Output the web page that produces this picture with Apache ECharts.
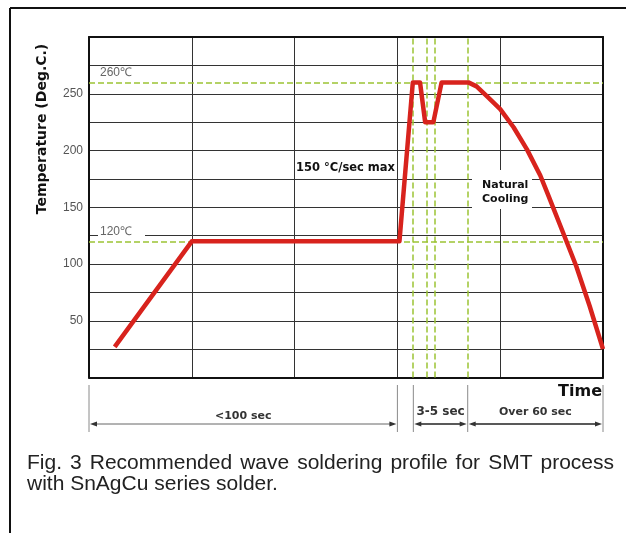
<!DOCTYPE html>
<html><head><meta charset="utf-8">
<script src="https://cdn.jsdelivr.net/npm/echarts@6/dist/echarts.min.js"></script>
<style>html,body{margin:0;padding:0;background:#fff;}#c{width:626px;height:533px;}</style>
</head><body><div id="c"></div>
<script>
// ---- data ----
const timeUnits = [0.25, 1.0, 3.02, 3.15, 3.22, 3.27, 3.35, 3.43, 3.69, 3.77, 3.87, 4.00, 4.13, 4.26, 4.39, 4.47, 4.61, 4.74, 4.87, 5.0];
const temps     = [27,   120, 120,  260,  260,  225,  225,  260,  260,  256.5, 248, 236.5, 220.5, 201, 178, 160, 128, 98, 63, 25];
const yTickLabels = [50, 100, 150, 200, 250];
const refTemps = [260, 120];
const refTempLabels = ['260℃', '120℃'];
const phaseMarks = [3.155, 3.291, 3.359, 3.684];
const phaseSpans = [[0, 3.0], [3.155, 3.684], [3.684, 5.0]];
const phaseLabels = ['<100 sec', '3-5 sec', 'Over 60 sec'];
const rampLabel = '150 °C/sec max';
const coolingLabel = ['Natural', 'Cooling'];
const yTitle = 'Temperature (Deg.C.)';
const xTitle = 'Time';
const captionLines = ['Fig. 3 Recommended wave soldering profile for SMT process', 'with SnAgCu series solder.'];

const chart = echarts.init(document.getElementById('c'), null, {renderer: 'canvas'});
const GREEN = '#9cc434';
const GRID = '#333';
const BOLD = '"DejaVu Sans", sans-serif';

chart.setOption({
  animation: false,
  grid: {left: 89, top: 37, right: 23, bottom: 155.5, show: false},
  xAxis: [
    {type: 'value', min: 0, max: 5, interval: 1,
     axisLine: {show: true, onZero: false, lineStyle: {color: '#111', width: 2}},
     axisTick: {show: false}, axisLabel: {show: false},
     splitLine: {show: true, lineStyle: {color: GRID, width: 1}}},
    {type: 'value', position: 'top', min: 0, max: 5, interval: 1,
     axisLine: {show: true, onZero: false, lineStyle: {color: '#111', width: 2}},
     axisTick: {show: false}, axisLabel: {show: false}, splitLine: {show: false}}
  ],
  yAxis: [
    {type: 'value', min: 0, max: 300, interval: 25,
     axisLine: {show: true, onZero: false, lineStyle: {color: '#111', width: 2}},
     axisTick: {show: false},
     axisLabel: {margin: 6, color: '#555', fontFamily: '"Liberation Sans", Arial', fontSize: 12,
       formatter: v => yTickLabels.includes(v) ? String(v) : ''},
     splitLine: {show: true, lineStyle: {color: GRID, width: 1}}},
    {type: 'value', position: 'right', min: 0, max: 300, interval: 25,
     axisLine: {show: true, onZero: false, lineStyle: {color: '#111', width: 2}},
     axisTick: {show: false}, axisLabel: {show: false}, splitLine: {show: false}}
  ],
  series: [
    {type: 'line', z: 1, data: [], silent: true,
     markLine: {z: 1, silent: true, animation: false, symbol: ['none', 'none'], label: {show: false},
       lineStyle: {color: GREEN, type: [6, 3], width: 1.5},
       data: [...refTemps.map(t => ({yAxis: t})), ...phaseMarks.map(x => ({xAxis: x}))]}},
    {type: 'line', z: 3, symbol: 'none', data: timeUnits.map((t, i) => [t, temps[i]]),
     lineStyle: {color: '#d8231d', width: 4.5, join: 'round'}}
  ]
});

// ---- annotations ----
const px = p => chart.convertToPixel({gridIndex: 0}, p);
const g = [];
const txt = (text, x, y, font, fill, align, extra) => g.push(Object.assign({
  type: 'text', z: 10, x, y,
  style: Object.assign({text, font, fill, align: align || 'left', textAlign: align || 'left',
    verticalAlign: 'middle', textVerticalAlign: 'middle'}, extra || {})
}));
const line = (x1, y1, x2, y2, stroke, w) => g.push({type: 'line', z: 10,
  shape: {x1, y1, x2, y2}, style: {stroke, lineWidth: w || 1}});

// outer frame
line(10, 8, 626, 8, '#111', 2);
line(10, 8, 10, 533, '#111', 2);

// y title
g.push({type: 'text', z: 10, x: 42.5, y: 129, rotation: Math.PI / 2,
  style: {text: yTitle, font: 'bold 14px ' + BOLD, fill: '#111', align: 'center', textAlign: 'center',
    verticalAlign: 'middle', textVerticalAlign: 'middle'}});

// reference temp labels
const left = px([0, 0])[0];
txt(refTempLabels[0], left + 11, px([0, 260])[1] - 10, '12px "Liberation Sans", Arial', '#666');
g.push({type: 'rect', z: 9, shape: {x: left + 9, y: px([0, 120])[1] - 17, width: 47, height: 12}, style: {fill: '#fff'}});
txt(refTempLabels[1], left + 11, px([0, 120])[1] - 10, '12px "Liberation Sans", Arial', '#666');

// ramp label
txt(rampLabel, 296, 168, 'bold 11.5px ' + BOLD, '#111');

// cooling label with white box
g.push({type: 'rect', z: 9, shape: {x: 472, y: 170, width: 60, height: 39}, style: {fill: '#fff'}});
txt(coolingLabel[0], 482, 185, 'bold 11px ' + BOLD, '#111');
txt(coolingLabel[1], 482, 199, 'bold 11px ' + BOLD, '#111');

// Time label
const right = px([5, 0])[0];
txt(xTitle, right - 1, 392, 'bold 16px ' + BOLD, '#111', 'right');

// phase dimension markers
const bounds = [];
phaseSpans.forEach(s => { s.forEach(v => { if (!bounds.includes(v)) bounds.push(v); }); });
bounds.forEach(v => { const x = px([v, 0])[0]; line(x, 385, x, 432, '#8a8a8a', 1); });
const arrowY = 424;
phaseSpans.forEach((s, i) => {
  const x0 = px([s[0], 0])[0] + 1, x1 = px([s[1], 0])[0] - 1;
  line(x0 + 3, arrowY, x1 - 3, arrowY, i === 0 ? '#666' : '#222', i === 0 ? 1 : 1.3);
  g.push({type: 'polygon', z: 10, shape: {points: [[x0, arrowY], [x0 + 7, arrowY - 2.5], [x0 + 7, arrowY + 2.5]]}, style: {fill: '#333'}});
  g.push({type: 'polygon', z: 10, shape: {points: [[x1, arrowY], [x1 - 7, arrowY - 2.5], [x1 - 7, arrowY + 2.5]]}, style: {fill: '#333'}});
  txt(phaseLabels[i], (x0 + x1) / 2, i === 0 ? 416 : 412, 'bold ' + (i === 1 ? 12 : 11) + 'px ' + BOLD, '#333', 'center');
});

// caption (first line justified)
const capFont = '21px "Liberation Sans", Arial';
const ctx = document.createElement('canvas').getContext('2d');
ctx.font = capFont;
const words = captionLines[0].split(' ');
const widths = words.map(w => ctx.measureText(w).width);
const total = widths.reduce((a, b) => a + b, 0);
const gap = (614 - 27 - total) / (words.length - 1);
let cx = 27;
words.forEach((w, i) => { txt(w, cx, 463, capFont, '#222'); cx += widths[i] + gap; });
txt(captionLines[1], 27, 484, capFont, '#222');

chart.setOption({graphic: {elements: g}});
</script></body></html>
